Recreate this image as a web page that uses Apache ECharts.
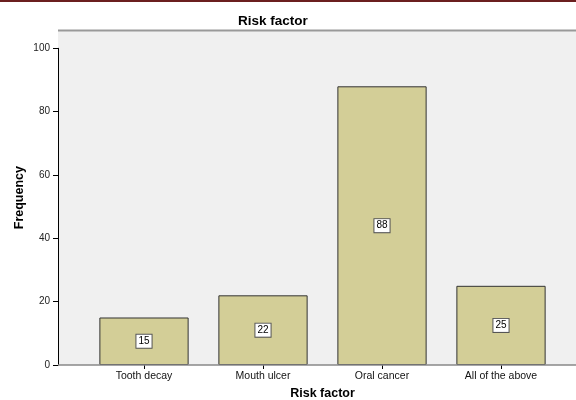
<!DOCTYPE html>
<html>
<head>
<meta charset="utf-8">
<script src="https://cdn.jsdelivr.net/npm/echarts@6/dist/echarts.min.js"></script>
<style>
  html, body { margin: 0; padding: 0; background: #fff; }
  #chart { width: 576px; height: 400px; }
</style>
</head>
<body>
<div id="chart"></div>
<script>
// 数据
var categories = ['Tooth decay', 'Mouth ulcer', 'Oral cancer', 'All of the above'];
var frequency = [15, 22, 88, 25];
var yTicks = [0, 20, 40, 60, 80, 100];

var chart = echarts.init(document.getElementById('chart'), null, { renderer: 'canvas' });

var option = {
    animation: false,
    textStyle: { fontFamily: 'Liberation Sans, Arial, sans-serif' },
    title: {
        text: 'Risk factor',
        left: 233,
        top: 9,
        textStyle: { fontSize: 13.5, fontWeight: 'bold', color: '#000' }
    },
    graphic: [
        // top dark red rule
        { type: 'rect', shape: { x: 0, y: 0, width: 576, height: 2 }, style: { fill: '#6b1f1f' }, z: 0 },
        // plot background
        { type: 'rect', shape: { x: 58, y: 30, width: 518, height: 335 }, style: { fill: '#f0f0f0' }, z: -1 },
        { type: 'line', shape: { x1: 58, y1: 30.5, x2: 576, y2: 30.5 }, style: { stroke: '#999', lineWidth: 2 }, z: 0 },
        { type: 'line', shape: { x1: 58, y1: 365, x2: 576, y2: 365 }, style: { stroke: '#888', lineWidth: 1.5 }, z: 5 }
    ],
    grid: { left: 84.5, right: 15.5, top: 48.3, bottom: 35, containLabel: false, outerBoundsMode: 'none' },
    xAxis: {
        type: 'category',
        data: categories,
        name: 'Risk factor',
        nameLocation: 'middle',
        nameGap: 19,
        nameTextStyle: { fontSize: 12.5, fontWeight: 'bold', color: '#000' },
        axisLine: { show: false },
        axisTick: { show: true, alignWithLabel: true, length: 4, lineStyle: { color: '#000' } },
        axisLabel: { fontSize: 10.5, color: '#111', margin: 6, interval: 0 },
        splitLine: { show: false }
    },
    yAxis: {
        type: 'value',
        min: 0,
        max: 100,
        interval: 20,
        offset: 26.5,
        name: 'Frequency',
        nameLocation: 'middle',
        nameGap: 32,
        nameMoveOverlap: false,
        nameRotate: 90,
        nameTextStyle: { fontSize: 12.5, fontWeight: 'bold', color: '#000', padding: [0, 0, 0, 18] },
        axisLine: { show: true, lineStyle: { color: '#000', width: 1 } },
        axisTick: { show: true, length: 5, lineStyle: { color: '#000' } },
        axisLabel: {
            fontSize: 10, color: '#222', margin: 8,
            formatter: function (v) { return yTicks.indexOf(v) >= 0 ? String(v) : ''; }
        },
        splitLine: { show: false }
    },
    series: [{
        type: 'bar',
        data: frequency,
        barWidth: '75%',
        itemStyle: { color: '#d3ce97', borderColor: '#333', borderWidth: 1 },
        label: {
            show: true,
            position: 'inside',
            fontSize: 10,
            color: '#000',
            backgroundColor: '#fff',
            borderColor: '#555',
            borderWidth: 1,
            padding: [2, 2, 1, 2]
        },
        z: 3
    }]
};

chart.setOption(option);
</script>
</body>
</html>
